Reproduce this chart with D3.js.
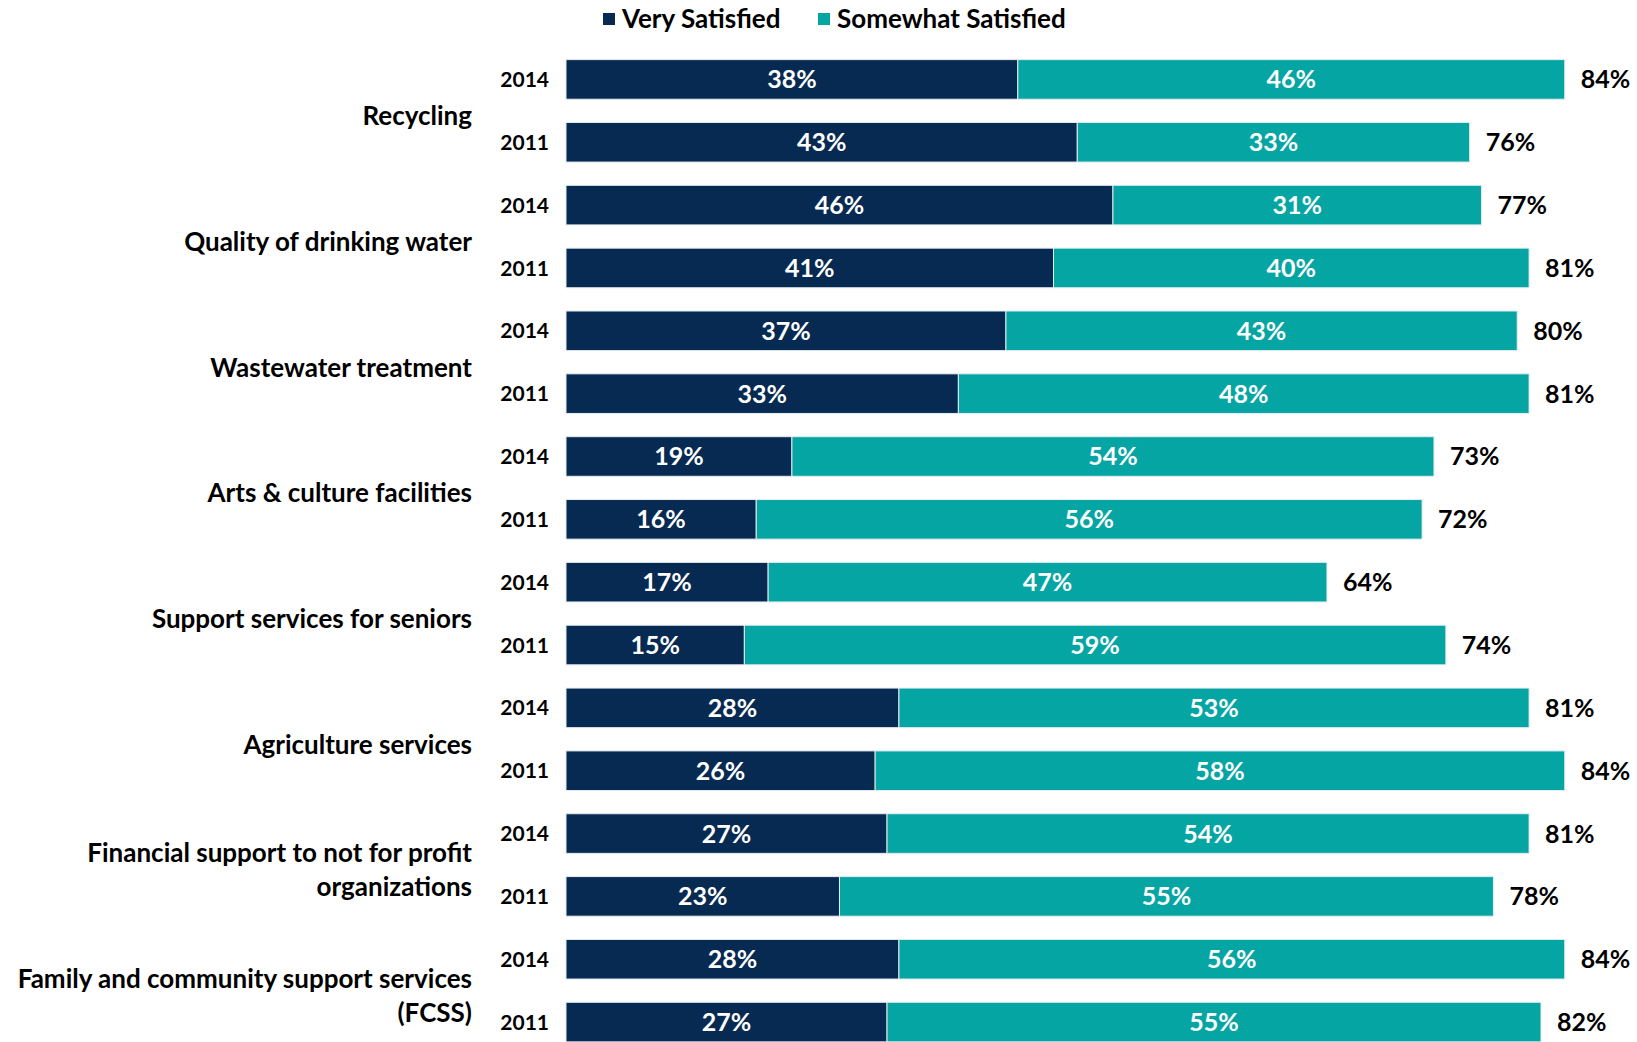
<!DOCTYPE html>
<html>
<head>
<meta charset="utf-8">
<script src="https://cdn.jsdelivr.net/npm/d3@7"></script>
<style>
  body { margin: 0; background: #fff; }
  text { font-family: Lato, "Open Sans", sans-serif; font-weight: 700; }
</style>
</head>
<body>
<div id="chart"></div>
<script>
const categories = [
    'Recycling',
    'Quality of drinking water',
    'Wastewater treatment',
    'Arts & culture facilities',
    'Support services for seniors',
    'Agriculture services',
    'Financial support to not for profit|organizations',
    'Family and community support services|(FCSS)'
];
const years = ['2014', '2011'];
const very2014 = [38, 46, 37, 19, 17, 28, 27, 28];
const somewhat2014 = [46, 31, 43, 54, 47, 53, 54, 56];
const total2014 = [84, 77, 80, 73, 64, 81, 81, 84];
const very2011 = [43, 41, 33, 16, 15, 26, 23, 27];
const somewhat2011 = [33, 40, 48, 56, 59, 58, 55, 55];
const total2011 = [76, 81, 81, 72, 74, 84, 78, 82];
const seriesNames = ['Very Satisfied', 'Somewhat Satisfied'];
const colors = ['#072a52', '#05a5a4'];

const width = 1637, height = 1042;

// one row per category/year
const rows = [];
categories.forEach((c, i) => {
    rows.push({ id: i + '-2014', cat: i, year: years[0], very: very2014[i], somewhat: somewhat2014[i], total: total2014[i] });
    rows.push({ id: i + '-2011', cat: i, year: years[1], very: very2011[i], somewhat: somewhat2011[i], total: total2011[i] });
});

const svg = d3.select('#chart').append('svg')
    .attr('width', width)
    .attr('height', height);

const x = d3.scaleLinear().domain([0, 100]).range([566, 1755]);
const y = d3.scaleBand()
    .domain(rows.map(d => d.id))
    .range([48, 1053.5])
    .paddingInner(0.37)
    .paddingOuter(0.185);

const stack = d3.stack().keys(['very', 'somewhat'])(rows);

const layers = svg.selectAll('.layer')
    .data(stack)
    .enter().append('g')
    .attr('class', 'layer')
    .attr('fill', (d, i) => colors[i]);

layers.selectAll('rect')
    .data(d => d)
    .enter().append('rect')
    .attr('x', d => x(d[0]))
    .attr('y', d => y(d.data.id))
    .attr('width', d => x(d[1]) - x(d[0]))
    .attr('height', y.bandwidth())
    .attr('stroke', '#e4ecef')
    .attr('stroke-width', 1);

// values inside segments
layers.selectAll('.val')
    .data(d => d)
    .enter().append('text')
    .attr('class', 'val')
    .attr('x', d => (x(d[0]) + x(d[1])) / 2)
    .attr('y', d => y(d.data.id) + y.bandwidth() / 2)
    .attr('dy', '0.36em')
    .attr('text-anchor', 'middle')
    .attr('fill', '#fff')
    .attr('font-size', 25)
    .text(d => (d[1] - d[0]) + '%');

// totals
svg.selectAll('.total')
    .data(rows)
    .enter().append('text')
    .attr('class', 'total')
    .attr('x', d => x(d.very + d.somewhat) + 16)
    .attr('y', d => y(d.id) + y.bandwidth() / 2)
    .attr('dy', '0.36em')
    .attr('fill', '#000')
    .attr('font-size', 25)
    .text(d => d.total + '%');

// year labels
svg.selectAll('.year')
    .data(rows)
    .enter().append('text')
    .attr('class', 'year')
    .attr('x', 549)
    .attr('y', d => y(d.id) + y.bandwidth() / 2)
    .attr('dy', '0.36em')
    .attr('text-anchor', 'end')
    .attr('font-size', 21)
    .text(d => d.year);

// category labels
const catLabels = svg.selectAll('.cat')
    .data(categories)
    .enter().append('text')
    .attr('class', 'cat')
    .attr('text-anchor', 'end')
    .attr('font-size', 26)
    .attr('fill', '#000');

catLabels.each(function(c, i) {
    const lines = c.split('|');
    const mid = (y(i + '-2014') + y(i + '-2011') + y.bandwidth()) / 2 + 5;
    const lineH = 34;
    const start = mid - (lines.length - 1) * lineH / 2;
    d3.select(this).selectAll('tspan')
        .data(lines)
        .enter().append('tspan')
        .attr('x', 472)
        .attr('y', (l, j) => start + j * lineH)
        .attr('dy', '0.36em')
        .text(l => l);
});

// legend
const legendX = [603, 818];
const legend = svg.selectAll('.legend')
    .data(seriesNames)
    .enter().append('g')
    .attr('class', 'legend')
    .attr('transform', (d, i) => 'translate(' + legendX[i] + ',19)');

legend.append('rect')
    .attr('x', 0)
    .attr('y', -6)
    .attr('width', 12)
    .attr('height', 12)
    .attr('fill', (d, i) => colors[i]);

legend.append('text')
    .attr('x', 19)
    .attr('dy', '0.36em')
    .attr('font-size', 26)
    .text(d => d);
</script>
</body>
</html>
